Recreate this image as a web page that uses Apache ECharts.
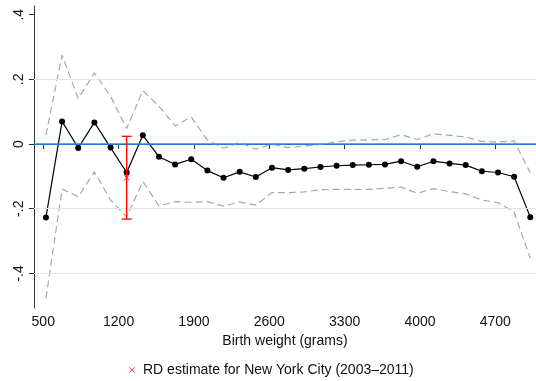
<!DOCTYPE html>
<html>
<head>
<meta charset="utf-8">
<script src="https://cdn.jsdelivr.net/npm/echarts@6/dist/echarts.min.js"></script>
<style>
  html, body { margin: 0; padding: 0; background: #fff; }
  #chart { width: 536px; height: 381px; }
</style>
</head>
<body>
<div id="chart"></div>
<script>
// bin midpoints (grams)
var birthWeight = [525, 675, 825, 975, 1125, 1275, 1425, 1575, 1725, 1875, 2025,
  2175, 2325, 2475, 2625, 2775, 2925, 3075, 3225, 3375, 3525, 3675, 3825, 3975,
  4125, 4275, 4425, 4575, 4725, 4875, 5025];

// RD estimates per bin
var estimate = [-0.227, 0.070, -0.012, 0.067, -0.011, -0.088, 0.027, -0.039, -0.063,
  -0.047, -0.082, -0.104, -0.086, -0.102, -0.073, -0.080, -0.076, -0.071, -0.067,
  -0.065, -0.064, -0.063, -0.053, -0.070, -0.053, -0.060, -0.065, -0.084, -0.088,
  -0.101, -0.226];

var upperCI = [0.028, 0.275, 0.141, 0.220, 0.148, 0.048, 0.165, 0.117, 0.056, 0.084,
  0.012, -0.013, 0.005, -0.016, 0.000, -0.011, -0.006, -0.001, 0.007, 0.012, 0.013,
  0.014, 0.029, 0.014, 0.032, 0.027, 0.022, 0.008, 0.006, 0.010, -0.089];

var lowerCI = [-0.477, -0.139, -0.163, -0.086, -0.173, -0.225, -0.116, -0.191, -0.178,
  -0.180, -0.178, -0.192, -0.179, -0.189, -0.150, -0.150, -0.148, -0.141, -0.140,
  -0.140, -0.140, -0.137, -0.133, -0.152, -0.138, -0.147, -0.154, -0.173, -0.181,
  -0.211, -0.353];

// New York City estimate with its interval: [x, estimate, high, low]
var nycEstimate = [[1275, -0.104, 0.024, -0.232]];

var xTicks = [500, 1200, 1900, 2600, 3300, 4000, 4700];
var yTicks = [-0.4, -0.2, 0, 0.2, 0.4];
var yGrid = [-0.4, -0.2, 0.2];

var crossIcon = 'path://M0,1L1,0L5,4L9,0L10,1L6,5L10,9L9,10L5,6L1,10L0,9L4,5Z';

function pairs(ys) {
  return birthWeight.map(function(x, i) { return [x, ys[i]]; });
}

function fmtY(v) {
  if (Math.abs(v) < 1e-9) return '0';
  return v.toFixed(1).replace('0.', '.');
}

var chart = echarts.init(document.getElementById('chart'));

var option = {
  animation: false,
  backgroundColor: '#fff',
  textStyle: { fontFamily: 'Liberation Sans, Arial, sans-serif' },
  grid: { left: 34, right: 0, top: 6, bottom: 73 },
  legend: {
    left: 124,
    top: 358,
    itemWidth: 6,
    itemHeight: 6,
    textStyle: { fontSize: 14, color: '#111', padding: [0, 0, 0, 3] },
    data: [{ name: 'RD estimate for New York City (2003\u20132011)', icon: crossIcon }]
  },
  xAxis: {
    type: 'value',
    min: 414,
    max: 5078,
    name: 'Birth weight (grams)',
    nameLocation: 'middle',
    nameGap: 20,
    nameTextStyle: { fontSize: 14, color: '#111' },
    axisLine: { show: true, lineStyle: { color: '#333', width: 1 } },
    axisTick: { show: true, length: 5, customValues: xTicks, lineStyle: { color: '#333' } },
    axisLabel: {
      customValues: xTicks,
      fontSize: 14,
      color: '#111',
      margin: 7,
      formatter: function(v) { return String(v); }
    },
    splitLine: { show: false }
  },
  yAxis: {
    type: 'value',
    min: -0.507,
    max: 0.427,
    axisLine: { show: true, lineStyle: { color: '#333', width: 1 } },
    axisTick: { show: true, length: 5, customValues: yTicks, lineStyle: { color: '#333' } },
    axisLabel: {
      customValues: yTicks,
      rotate: 90,
      fontSize: 14,
      color: '#111',
      margin: 8,
      formatter: fmtY
    },
    splitLine: { show: false }
  },
  series: [
    {
      name: 'grid',
      type: 'line',
      data: [],
      silent: true,
      markLine: {
        silent: true,
        symbol: 'none',
        label: { show: false },
        lineStyle: { color: '#e4e4e4', width: 1, type: 'solid' },
        data: yGrid.map(function(v) { return { yAxis: v }; })
      }
    },
    {
      name: 'upper',
      type: 'line',
      data: pairs(upperCI),
      symbol: 'none',
      silent: true,
      lineStyle: { color: '#a8a8a8', width: 1.2, type: [7, 4] },
      z: 2
    },
    {
      name: 'lower',
      type: 'line',
      data: pairs(lowerCI),
      symbol: 'none',
      silent: true,
      lineStyle: { color: '#a8a8a8', width: 1.2, type: [7, 4] },
      z: 2
    },
    {
      name: 'zero',
      type: 'line',
      data: [],
      silent: true,
      markLine: {
        silent: true,
        symbol: 'none',
        label: { show: false },
        lineStyle: { color: '#1e90ff', width: 1.5, type: 'solid' },
        data: [{ yAxis: 0 }]
      },
      z: 3
    },
    {
      name: 'estimate',
      type: 'line',
      data: pairs(estimate),
      symbol: 'circle',
      symbolSize: 6,
      itemStyle: { color: '#000' },
      lineStyle: { color: '#000', width: 1.2 },
      z: 4
    },
    {
      name: 'nycBar',
      type: 'custom',
      data: nycEstimate,
      silent: true,
      z: 5,
      renderItem: function(params, api) {
        var x = api.value(0);
        var hi = api.coord([x, api.value(2)]);
        var lo = api.coord([x, api.value(3)]);
        var w = 5;
        var st = { stroke: '#ff0000', lineWidth: 1.3 };
        return {
          type: 'group',
          children: [
            { type: 'line', shape: { x1: hi[0], y1: hi[1], x2: lo[0], y2: lo[1] }, style: st },
            { type: 'line', shape: { x1: hi[0] - w, y1: hi[1], x2: hi[0] + w, y2: hi[1] }, style: st },
            { type: 'line', shape: { x1: lo[0] - w, y1: lo[1], x2: lo[0] + w, y2: lo[1] }, style: st }
          ]
        };
      }
    },
    {
      name: 'RD estimate for New York City (2003\u20132011)',
      type: 'scatter',
      data: nycEstimate.map(function(d) { return [d[0], d[1]]; }),
      symbol: crossIcon,
      symbolSize: 6,
      itemStyle: { color: '#ff0000' },
      z: 6
    }
  ]
};

chart.setOption(option);
</script>
</body>
</html>
